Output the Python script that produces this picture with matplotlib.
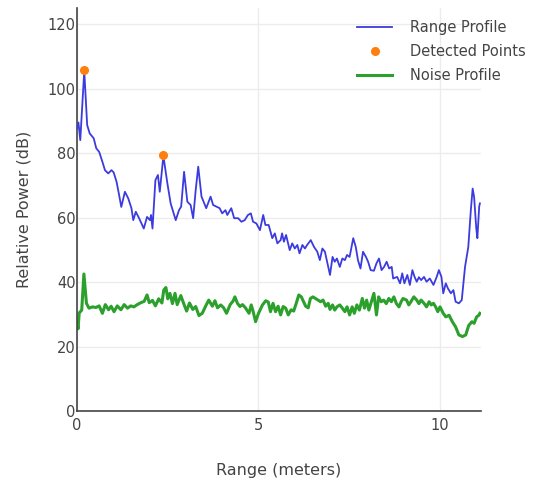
import matplotlib
matplotlib.use("Agg")
import matplotlib.pyplot as plt

# Range profile (meters, dB)
range_m = [
    0.00, 0.04, 0.09, 0.20, 0.28, 0.35, 0.46, 0.53, 0.61, 0.70,
    0.77, 0.86, 0.95, 1.01, 1.09, 1.16, 1.22, 1.32, 1.41, 1.50,
    1.55, 1.62, 1.71, 1.84, 1.93, 2.01, 2.04, 2.08, 2.16, 2.23,
    2.28, 2.38, 2.49, 2.58, 2.72, 2.81, 2.87, 2.95, 3.04, 3.13,
    3.20, 3.27, 3.34, 3.43, 3.47, 3.56, 3.68, 3.75, 3.84, 3.93,
    4.00, 4.09, 4.14, 4.25, 4.33, 4.44, 4.53, 4.62, 4.71, 4.79,
    4.85, 4.94, 5.04, 5.13, 5.19, 5.28, 5.38, 5.45, 5.52, 5.61,
    5.65, 5.70, 5.76, 5.86, 5.93, 6.00, 6.07, 6.13, 6.21, 6.28,
    6.34, 6.44, 6.53, 6.62, 6.69, 6.76, 6.83, 6.90, 6.97, 7.04,
    7.10, 7.16, 7.24, 7.31, 7.38, 7.44, 7.51, 7.61, 7.68, 7.74,
    7.81, 7.88, 7.96, 8.02, 8.09, 8.18, 8.25, 8.32, 8.39, 8.46,
    8.53, 8.60, 8.67, 8.71, 8.82, 8.90, 8.96, 9.02, 9.10, 9.17,
    9.24, 9.30, 9.36, 9.42, 9.48, 9.56, 9.63, 9.72, 9.82, 9.91,
    9.97, 10.04, 10.09, 10.16, 10.22, 10.30, 10.37, 10.43, 10.52, 10.60,
    10.69, 10.78, 10.85, 10.90, 10.94, 11.00, 11.03, 11.08, 11.10,
]
range_db = [
    87.5, 89.5, 84.0, 105.5, 88.7, 86.1, 84.6, 81.5, 80.4, 77.3,
    74.7, 73.7, 74.7, 74.0, 71.1, 67.0, 63.3, 68.0, 66.0, 62.9,
    59.2, 61.8, 59.8, 56.6, 60.2, 59.2, 60.8, 56.6, 71.6, 73.2,
    68.0, 79.1, 70.6, 64.4, 59.2, 62.3, 63.4, 74.2, 64.9, 63.9,
    59.8, 68.5, 75.8, 66.5, 65.4, 62.9, 66.5, 63.9, 63.4, 62.9,
    61.3, 62.3, 60.8, 62.9, 59.8, 59.8, 58.7, 59.2, 60.8, 61.3,
    58.7, 58.2, 56.1, 60.8, 57.7, 57.7, 53.6, 55.1, 52.0, 53.0,
    55.1, 52.5, 54.6, 49.9, 52.0, 50.4, 51.5, 48.9, 51.5, 50.4,
    51.5, 53.0, 50.9, 49.4, 46.8, 50.4, 49.4, 45.8, 42.2, 47.8,
    46.3, 47.3, 44.7, 47.3, 46.8, 48.4, 47.8, 53.6, 50.9, 46.8,
    44.2, 49.4, 47.8, 46.3, 43.7, 43.5, 45.8, 47.3, 43.7, 44.7,
    46.3, 44.2, 44.7, 41.1, 41.6, 39.6, 42.7, 39.6, 42.2, 39.1,
    43.7, 41.6, 40.1, 41.5, 40.6, 41.6, 40.1, 41.1, 39.1, 41.6,
    43.7, 41.6, 36.5, 39.6, 38.0, 36.5, 37.5, 33.9, 33.4, 34.4,
    44.7, 50.9, 62.3, 69.0, 66.4, 56.6, 53.6, 63.4, 64.4,
]

# Noise profile
noise_m = [
    0.00, 0.03, 0.06, 0.13, 0.19, 0.26, 0.33, 0.43, 0.52, 0.61,
    0.70, 0.78, 0.87, 0.94, 1.02, 1.11, 1.21, 1.30, 1.39, 1.48,
    1.57, 1.66, 1.76, 1.85, 1.93, 1.99, 2.08, 2.16, 2.25, 2.34,
    2.39, 2.45, 2.50, 2.56, 2.63, 2.70, 2.76, 2.86, 2.95, 3.02,
    3.10, 3.19, 3.27, 3.36, 3.45, 3.56, 3.63, 3.73, 3.80, 3.87,
    3.96, 4.04, 4.12, 4.22, 4.30, 4.35, 4.42, 4.49, 4.56, 4.64,
    4.74, 4.80, 4.85, 4.92, 5.00, 5.11, 5.20, 5.27, 5.33, 5.40,
    5.47, 5.54, 5.61, 5.68, 5.75, 5.82, 5.90, 5.97, 6.04, 6.11,
    6.18, 6.30, 6.37, 6.43, 6.50, 6.57, 6.64, 6.71, 6.78, 6.85,
    6.92, 6.97, 7.04, 7.10, 7.16, 7.24, 7.31, 7.38, 7.44, 7.51,
    7.58, 7.64, 7.71, 7.78, 7.86, 7.92, 7.98, 8.04, 8.11, 8.18,
    8.25, 8.31, 8.38, 8.45, 8.52, 8.59, 8.66, 8.73, 8.80, 8.87,
    8.93, 8.98, 9.08, 9.14, 9.20, 9.28, 9.36, 9.42, 9.48, 9.56,
    9.63, 9.70, 9.76, 9.82, 9.88, 9.94, 10.00, 10.09, 10.16, 10.25,
    10.34, 10.43, 10.52, 10.62, 10.71, 10.79, 10.88, 10.94, 11.01, 11.07,
    11.10,
]
noise_db = [
    27.5, 25.5, 30.4, 31.3, 42.5, 33.4, 31.9, 32.3, 32.1, 32.6,
    30.3, 33.0, 31.4, 32.5, 30.8, 32.6, 31.4, 33.0, 31.9, 32.6,
    32.3, 33.0, 33.6, 34.0, 36.0, 33.6, 34.3, 32.6, 34.8, 33.5,
    37.5, 38.3, 34.8, 36.5, 33.3, 36.5, 33.0, 35.8, 33.0, 31.0,
    33.5, 31.5, 32.4, 29.6, 30.3, 32.9, 34.4, 32.5, 34.2, 32.0,
    32.9, 32.0, 30.3, 33.0, 34.1, 35.4, 33.4, 32.4, 33.0, 32.0,
    30.3, 32.9, 31.0, 27.7, 30.3, 32.9, 34.2, 33.8, 30.8, 33.4,
    30.8, 32.5, 29.8, 32.4, 31.9, 29.8, 31.4, 31.0, 33.4, 36.0,
    35.4, 32.5, 32.0, 34.9, 35.4, 34.9, 34.4, 33.9, 34.4, 32.5,
    33.4, 31.5, 32.9, 31.3, 32.3, 32.9, 31.9, 30.8, 32.3, 29.8,
    32.3, 30.3, 32.9, 31.3, 34.9, 31.9, 34.4, 31.3, 33.9, 36.5,
    29.8, 35.4, 33.9, 34.4, 33.3, 34.9, 33.9, 35.4, 33.3, 32.3,
    33.9, 34.9, 34.4, 32.9, 33.9, 35.4, 34.4, 33.3, 34.4, 33.4,
    32.3, 33.9, 32.9, 33.4, 32.3, 30.8, 32.3, 30.3, 29.2, 29.7,
    27.7, 26.1, 23.6, 23.1, 23.6, 26.5, 27.7, 27.2, 29.2, 29.7,
    30.3,
]

# Detected peaks
detected_m = [0.20, 2.38]
detected_db = [105.7, 79.5]

x_limits = (0, 11.13)
y_limits = (0, 125)
x_ticks = [0, 5, 10]
y_ticks = [0, 20, 40, 60, 80, 100, 120]

fig = plt.figure(figsize=(5.43, 4.86), dpi=100)
ax = fig.add_axes([77 / 543, 75 / 486, 404 / 543, 403 / 486])

ax.plot(range_m, range_db, color="#3b3be0", linewidth=1.3, label="Range Profile", zorder=3)
ax.plot(detected_m, detected_db, linestyle="none", marker="o", markersize=5.5,
        color="#ff7f0e", label="Detected Points", zorder=4)
ax.plot(noise_m, noise_db, color="#2ca02c", linewidth=2.2, label="Noise Profile", zorder=2)

ax.set_xlim(*x_limits)
ax.set_ylim(*y_limits)
ax.set_xticks(x_ticks)
ax.set_yticks(y_ticks)
ax.grid(True, color="#ececec", linewidth=1)
ax.set_axisbelow(True)

for side in ["top", "right"]:
    ax.spines[side].set_visible(False)
for side in ["left", "bottom"]:
    ax.spines[side].set_color("#444444")
    ax.spines[side].set_linewidth(1.2)

ax.tick_params(axis="both", length=0, labelsize=10.5, labelcolor="#444444")
ax.tick_params(axis="y", pad=1)
ax.tick_params(axis="x", pad=5)

ax.set_xlabel("Range (meters)", fontsize=11.5, color="#444444")
ax.set_ylabel("Relative Power (dB)", fontsize=11.5, color="#444444")
ax.xaxis.set_label_coords(0.5, -0.128)
ax.yaxis.set_label_coords(-0.112, 0.5)

leg = ax.legend(loc="upper left", bbox_to_anchor=(350 / 543, 1 - 13 / 486),
                bbox_transform=fig.transFigure, frameon=False, fontsize=10.5,
                handlelength=2.4, handletextpad=1.2, labelspacing=0.6,
                borderpad=0)
for text in leg.get_texts():
    text.set_color("#444444")

fig.savefig("out.png", dpi=100)
